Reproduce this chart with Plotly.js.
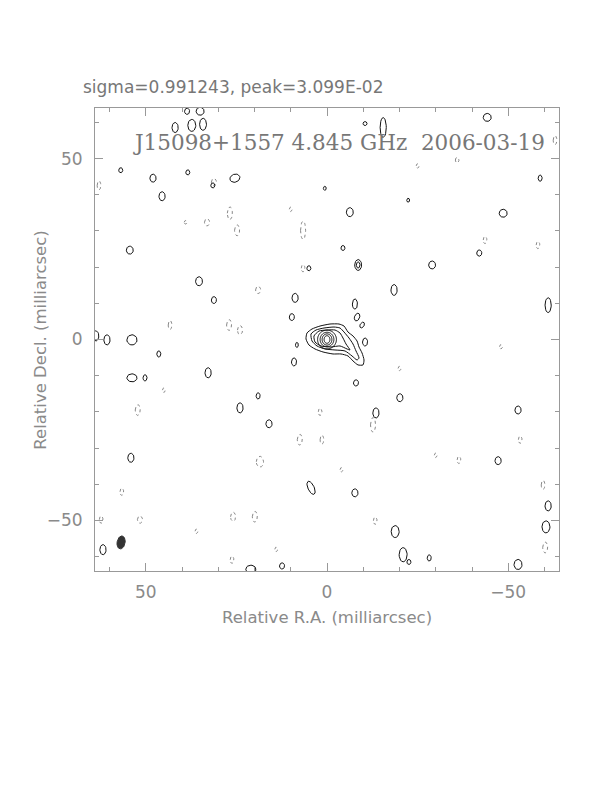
<!DOCTYPE html>
<html><head><meta charset="utf-8">
<script src="https://cdn.plot.ly/plotly-3.0.1.min.js"></script>
<style>html,body{margin:0;padding:0;background:#fff}#plot{width:612px;height:792px}</style>
</head><body><div id="plot"></div>
<script>
// ---- Data (milliarcsec) ----
const sigmaTxt = "sigma=0.991243, peak=3.099E-02";
const mapTitle = "J15098+1557 4.845 GHz  2006-03-19";
const xTitle = "Relative R.A. (milliarcsec)";
const yTitle = "Relative Decl. (milliarcsec)";
const xTickVals = [50, 0, -50];
const xTickText = ["50", "0", "\u221250"];
const yTickVals = [50, 0, -50];
const yTickText = ["50", "0", "\u221250"];

// main source traced contours (RA, Dec)
const src1RA  = [5.52,4.14,1.93,-0.83,-3.31,-4.69,-5.79,-7.17,-8.28,-8.83,-9.66,-10.21,-9.93,-8.55,-7.17,-5.79,-3.86,-1.66,1.10,3.31,4.97,5.79,5.52];
const src1Dec = [1.79,2.90,3.72,4.28,4.28,3.72,2.07,0.97,-0.41,-2.07,-3.72,-5.66,-7.03,-7.03,-5.93,-4.55,-4.00,-4.00,-3.45,-2.62,-1.52,0.14,1.79];
const src2RA  = [4.41,3.03,0.83,-1.93,-3.59,-4.69,-6.07,-7.17,-8.00,-8.83,-8.28,-6.90,-4.97,-2.21,0.55,2.76,4.14,4.41];
const src2Dec = [1.52,2.62,3.17,3.45,3.17,2.07,0.41,-1.24,-3.17,-5.10,-5.66,-4.55,-3.17,-2.90,-2.62,-1.79,-0.41,1.52];
const src3RA  = [3.59,2.21,0,-2.21,-3.59,-4.41,-5.24,-6.34,-5.52,-3.59,-1.10,1.66,3.31,3.59];
const src3Dec = [0.97,2.34,2.62,2.62,1.79,0.41,-1.24,-2.90,-2.62,-1.79,-2.07,-1.79,-0.69,0.97];
// core rings: half-widths
const coreRX = [2.6, 1.9, 1.35, 0.8];
const coreRY = [2.6, 2.0, 1.55, 1.05];

// positive islands: centre RA, Dec, full width, full height, tilt (deg)
const posRA  = [41.9,37.3,34.2,35.0,38.6,48.0,45.5,56.9,38.4,25.4,31.5,-15.5,-10.5,-44.2,0.6,-6.3,-48.6,-22.4,-58.8,54.4,35.3,31.2,8.8,5.0,-4.4,-8.6,-8.6,-18.5,-29.0,-42.0,-61.0,53.8,60.7,63.8,46.4,53.8,50.2,32.8,24.0,19.0,16.0,4.4,-8.0,-13.5,-20.1,54.1,-7.7,-18.8,-21.0,-47.2,-52.7,-61.0,-60.4,61.8,-52.7,21.0,12.4,-22.6,-28.2,-7.7,-8.3,-9.7,-10.5,8.3,9.1,9.7];
const posDec = [58.6,59.2,59.5,63.1,63.1,44.6,39.6,46.8,46.2,44.6,42.6,58.6,59.7,61.4,41.8,35.2,34.9,38.5,44.6,24.7,16.1,10.9,11.5,19.7,25.3,20.6,20.6,13.7,20.6,23.9,9.5,-0.1,-0.1,1.0,-4.0,-10.6,-10.6,-9.2,-18.9,-15.6,-23.3,-41.0,-12.0,-20.3,-16.1,-32.7,-42.4,-53.1,-59.5,-33.5,-19.5,-46.0,-51.8,-58.1,-62.2,-63.5,-62.6,-61.5,-60.4,9.8,6.2,4.0,-0.7,-1.5,-6.2,6.2];
const posW   = [1.7,2.2,1.9,2.2,1.4,1.7,1.7,1.1,1.1,2.8,1.1,1.7,1.1,2.2,0.8,1.9,2.2,0.8,1.1,1.9,1.9,1.4,1.7,1.1,1.1,1.9,1.0,1.7,1.9,1.4,1.7,2.8,1.7,1.7,1.1,2.8,1.1,1.7,1.7,1.1,1.7,1.7,1.4,1.7,1.7,1.7,1.7,2.2,2.2,1.7,1.7,1.7,2.2,1.7,2.2,2.8,1.4,1.1,1.1,1.4,1.4,1.1,1.4,0.8,1.4,1.4];
const posH   = [2.8,3.3,3.3,2.2,1.7,2.2,2.5,1.4,1.4,2.2,1.4,5.5,1.1,2.2,1.1,2.5,2.2,1.1,1.7,2.2,2.5,1.9,2.5,1.4,1.4,3.0,1.7,3.0,2.2,1.7,4.1,2.8,2.8,2.8,1.7,2.2,1.7,2.8,2.8,1.7,2.2,3.9,1.7,2.8,2.2,2.5,2.2,3.3,3.9,2.2,2.2,2.8,3.3,2.8,2.8,2.2,1.7,1.4,1.7,2.8,2.2,1.7,2.2,1.4,2.2,1.9];
const posAng = [0,0,0,0,0,0,0,0,0,-20,0,0,0,0,0,0,0,0,0,0,0,0,0,0,0,0,0,0,0,0,0,0,0,0,0,0,0,0,0,0,0,-25,0,0,0,0,0,0,0,0,0,0,0,0,0,0,0,0,0,0,20,30,0,0,0,0];

// negative islands (dotted)
const negRA  = [31.2,26.8,24.8,33.1,39.0,6.6,6.6,19.0,27.0,24.0,43.3,52.2,1.9,7.5,1.4,-12.7,-36.4,18.5,25.9,19.9,-13.3,-43.6,-58.2,-62.9,62.9,56.6,51.6,-60.2,-59.6,-53.3,26.2,-35.9,62.3,-20.0,-30.0,14.0,-4.0,45.0,-48.0,-25.0,10.0,36.0];
const negDec = [43.5,34.9,30.2,32.4,32.4,30.2,19.7,13.7,4.0,2.6,4.0,-19.5,-20.0,-27.7,-27.7,-23.6,-33.3,-33.8,-49.0,-49.0,-50.1,27.5,26.1,55.1,42.6,-42.1,-49.8,-57.5,-40.2,-27.7,-60.9,49.6,-49.8,-8.0,-32.0,-58.0,-36.0,-14.0,-2.0,48.0,36.0,-53.0];
const negW   = [1.4,1.4,1.4,1.4,0.8,1.4,1.0,1.4,1.4,1.4,1.0,1.4,1.0,1.4,1.0,1.4,1.0,2.0,1.4,1.4,1.0,1.0,1.0,1.0,1.0,1.0,1.4,1.4,1.0,1.0,1.0,1.0,1.0,0.8,0.8,0.8,0.8,0.8,0.8,0.8,0.8,0.8];
const negH   = [2.0,3.5,3.0,2.0,1.0,5.0,2.0,2.0,3.0,2.5,2.5,3.0,2.0,3.0,2.5,4.0,2.0,3.0,2.5,3.0,2.0,2.0,2.0,2.5,2.5,2.0,2.0,3.0,2.5,2.0,2.0,1.5,2.0,1.2,1.2,1.2,1.2,1.2,1.2,1.2,1.2,1.2];

// restoring beam
const beamRA = [56.8], beamDec = [-56.1], beamW = [2.2], beamH = [3.6], beamAng = [10];

// ---- drawing helpers ----
function ellipse(cx, cy, w, h, angDeg, n) {
  const xs = [], ys = [];
  const a = angDeg * Math.PI / 180;
  for (let i = 0; i <= n; i++) {
    const t = 2 * Math.PI * i / n;
    const ex = (w / 2) * Math.cos(t), ey = (h / 2) * Math.sin(t);
    xs.push(cx + ex * Math.cos(a) - ey * Math.sin(a));
    ys.push(cy + ex * Math.sin(a) + ey * Math.cos(a));
  }
  return [xs, ys];
}
function islands(ra, dec, w, h, ang) {
  let X = [], Y = [];
  for (let i = 0; i < ra.length; i++) {
    const [xs, ys] = ellipse(ra[i], dec[i], w[i], h[i], ang ? ang[i] : 0, 28);
    X = X.concat(xs, [null]); Y = Y.concat(ys, [null]);
  }
  return [X, Y];
}

const [pX, pY] = islands(posRA, posDec, posW, posH, posAng);
const [nX, nY] = islands(negRA, negDec, negW, negH, null);
let cX = [].concat(src1RA, [null], src2RA, [null], src3RA, [null]);
let cY = [].concat(src1Dec, [null], src2Dec, [null], src3Dec, [null]);
for (let i = 0; i < coreRX.length; i++) {
  const [xs, ys] = ellipse(0, 0, 2 * coreRX[i], 2 * coreRY[i], 0, 36);
  cX = cX.concat(xs, [null]); cY = cY.concat(ys, [null]);
}
const [bX, bY] = ellipse(beamRA[0], beamDec[0], beamW[0], beamH[0], beamAng[0], 36);

const traces = [
  {x: nX, y: nY, mode: 'lines', line: {color: '#888', width: 1, dash: 'dot'}, hoverinfo: 'skip', connectgaps: false},
  {x: pX, y: pY, mode: 'lines', line: {color: '#111', width: 1}, hoverinfo: 'skip', connectgaps: false},
  {x: cX, y: cY, mode: 'lines', line: {color: '#111', width: 1, shape: 'spline', smoothing: 0.6}, hoverinfo: 'skip', connectgaps: false},
  {x: bX, y: bY, mode: 'lines', fill: 'toself', fillcolor: '#333', line: {color: '#333', width: 1}, hoverinfo: 'skip'}
];

const axisCommon = {
  showgrid: false, zeroline: false, showline: true, linecolor: '#999', linewidth: 1,
  mirror: 'allticks', ticks: 'inside', ticklen: 8, tickcolor: '#999', tickwidth: 1,
  tickfont: {family: 'DejaVu Sans', size: 17, color: '#8a8a8a'},
  minor: {dtick: 10, ticks: 'inside', ticklen: 4, tickcolor: '#999', tickwidth: 1},
  fixedrange: true
};

const titleFont = {family: 'DejaVu Sans', size: 16.5, color: '#8a8a8a'};

const layout = {
  width: 612, height: 792,
  margin: {l: 95, r: 53, t: 108, b: 221},
  paper_bgcolor: '#fff', plot_bgcolor: '#fff',
  showlegend: false,
  xaxis: Object.assign({}, axisCommon, {
    range: [64, -64], tickmode: 'array', tickvals: xTickVals, ticktext: xTickText,
    ticklabelstandoff: 6
  }),
  yaxis: Object.assign({}, axisCommon, {
    range: [-64, 64], tickmode: 'array', tickvals: yTickVals, ticktext: yTickText,
    ticklabelstandoff: 8
  }),
  annotations: [
    {text: sigmaTxt, xref: 'paper', yref: 'paper', x: -0.03, y: 1.02, xanchor: 'left', yanchor: 'bottom',
     showarrow: false, font: {family: 'DejaVu Sans', size: 17, color: '#777'}},
    {text: mapTitle, xref: 'paper', yref: 'paper', x: 0.975, y: 0.926, xanchor: 'right', yanchor: 'middle',
     showarrow: false, font: {family: 'DejaVu Serif', size: 21.5, color: '#777'}},
    {text: xTitle, xref: 'paper', yref: 'paper', x: 0.5, y: -0.101, xanchor: 'center', yanchor: 'middle',
     showarrow: false, font: titleFont},
    {text: yTitle, xref: 'paper', yref: 'paper', x: -0.118, y: 0.5, xanchor: 'center', yanchor: 'middle',
     textangle: -90, showarrow: false, font: titleFont}
  ]
};

Plotly.newPlot('plot', traces, layout, {staticPlot: true});
</script></body></html>
